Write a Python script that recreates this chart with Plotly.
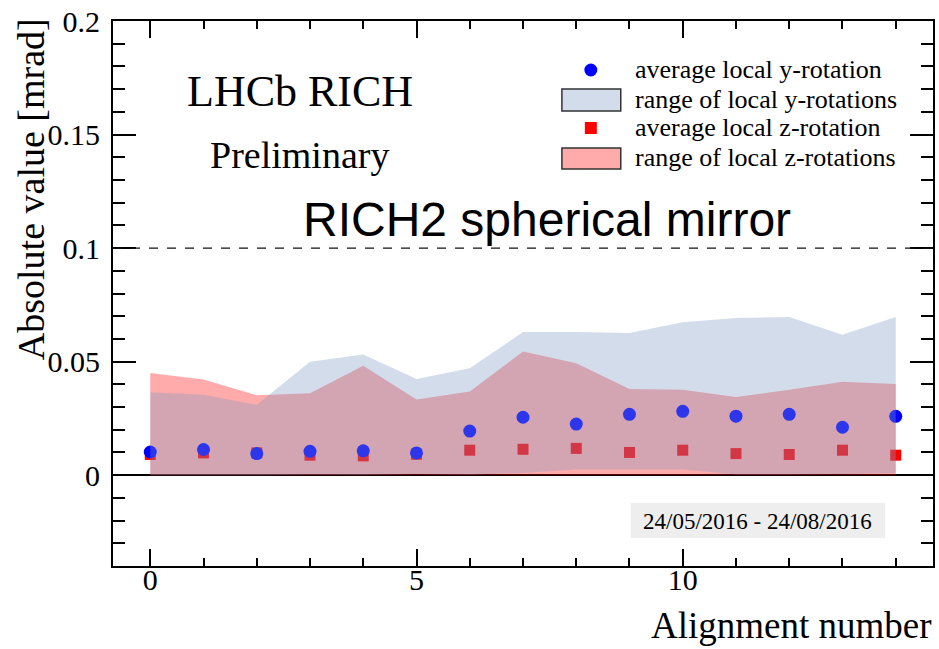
import plotly.graph_objects as go

# Alignment runs and local rotation summaries [mrad]
alignment = list(range(15))
y_rot_avg = [0.0102, 0.0113, 0.0095, 0.0105, 0.0107, 0.0098, 0.0194, 0.0255,
             0.0225, 0.0268, 0.0281, 0.0260, 0.0268, 0.0211, 0.0259]
y_rot_max = [0.0365, 0.0354, 0.0310, 0.0500, 0.0531, 0.0424, 0.0471, 0.0630,
             0.0630, 0.0626, 0.0673, 0.0692, 0.0697, 0.0618, 0.0697]
y_rot_min = [0.0000, 0.0000, 0.0000, 0.0002, 0.0001, 0.0005, 0.0002, 0.0010,
             0.0025, 0.0025, 0.0025, 0.0003, 0.0003, 0.0005, 0.0010]
z_rot_avg = [0.0091, 0.0098, 0.0098, 0.0088, 0.0085, 0.0092, 0.0110, 0.0114,
             0.0118, 0.0100, 0.0110, 0.0095, 0.0091, 0.0110, 0.0088]
z_rot_max = [0.0450, 0.0421, 0.0352, 0.0361, 0.0482, 0.0333, 0.0368, 0.0545,
             0.0493, 0.0379, 0.0376, 0.0344, 0.0376, 0.0411, 0.0402]
z_rot_min = [0.0] * 15

y_ticks = [0, 0.05, 0.1, 0.15, 0.2]
y_tick_text = ["0", "0.05", "0.1", "0.15", "0.2"]
x_ticks = [0, 5, 10]
threshold = 0.1

SERIF = "Liberation Serif, Times New Roman, serif"
SANS = "Liberation Sans, Arial, sans-serif"

BLUE_BAND = "rgba(129,155,195,0.35)"
RED_BAND = "rgba(255,0,0,0.33)"

W, H = 939, 649
ML, MR, MT, MB = 113, 4, 21, 83
PW, PH = W - ML - MR, H - MT - MB


def px(x):
    return (x - ML) / PW


def py(y):
    return (H - MB - y) / PH


def band(lo, hi, color):
    return go.Scatter(
        x=alignment + alignment[::-1],
        y=hi + lo[::-1],
        fill="toself", fillcolor=color, mode="none",
        hoverinfo="skip", showlegend=False,
    )


fig = go.Figure()
fig.add_trace(band(z_rot_min, z_rot_max, RED_BAND))
fig.add_trace(go.Scatter(x=alignment, y=z_rot_avg, mode="markers",
                         marker=dict(symbol="square", size=11, color="#ff0000"),
                         showlegend=False))
fig.add_trace(go.Scatter(x=alignment, y=y_rot_avg, mode="markers",
                         marker=dict(symbol="circle", size=13, color="#0000ff"),
                         showlegend=False))
fig.add_trace(band(y_rot_min, y_rot_max, BLUE_BAND))

shapes = [
    dict(type="line", xref="paper", yref="y", x0=0, x1=1, y0=threshold, y1=threshold,
         line=dict(color="#111", width=1.2, dash="9px,9px")),
    # legend symbols
    dict(type="circle", xref="paper", yref="paper",
         x0=px(585.5), x1=px(598.5), y0=py(76.5), y1=py(63.5),
         fillcolor="#0000ff", line=dict(width=0)),
    dict(type="rect", xref="paper", yref="paper",
         x0=px(563), x1=px(622), y0=py(111), y1=py(89),
         fillcolor=BLUE_BAND, line=dict(color="#333", width=1.5)),
    dict(type="rect", xref="paper", yref="paper",
         x0=px(586), x1=px(598), y0=py(134), y1=py(122),
         fillcolor="#ff0000", line=dict(width=0)),
    dict(type="rect", xref="paper", yref="paper",
         x0=px(563), x1=px(622), y0=py(169), y1=py(148),
         fillcolor=RED_BAND, line=dict(color="#333", width=1.5)),
    # date box
    dict(type="rect", xref="paper", yref="paper",
         x0=px(632), x1=px(887), y0=py(538), y1=py(503),
         fillcolor="#eeeeee", line=dict(width=0), layer="below"),
]

legend_labels = ["average local y-rotation", "range of local y-rotations",
                 "average local z-rotation", "range of local z-rotations"]
legend_rows = [70, 99, 128, 157]

annotations = []
for label, row in zip(legend_labels, legend_rows):
    annotations.append(dict(text=label, xref="paper", yref="paper",
                            x=px(634), y=py(row), xanchor="left", yanchor="middle",
                            showarrow=False, font=dict(family=SERIF, size=26, color="black")))

annotations += [
    dict(text="LHCb RICH", xref="paper", yref="paper", x=px(300), y=py(91),
         xanchor="center", yanchor="middle", showarrow=False,
         font=dict(family=SERIF, size=44, color="black")),
    dict(text="Preliminary", xref="paper", yref="paper", x=px(300), y=py(155),
         xanchor="center", yanchor="middle", showarrow=False,
         font=dict(family=SERIF, size=38, color="black")),
    dict(text="RICH2 spherical mirror", xref="paper", yref="paper", x=px(548), y=py(220),
         xanchor="center", yanchor="middle", showarrow=False,
         font=dict(family=SANS, size=48, color="black")),
    dict(text="24/05/2016 - 24/08/2016", xref="paper", yref="paper", x=px(759), y=py(521),
         xanchor="center", yanchor="middle", showarrow=False,
         font=dict(family=SERIF, size=23, color="black")),
    dict(text="Absolute value [mrad]", xref="paper", yref="paper", x=px(31), y=py(16),
         xanchor="center", yanchor="top", textangle=-90, showarrow=False,
         font=dict(family=SERIF, size=38, color="black")),
    dict(text="Alignment number", xref="paper", yref="paper", x=px(936), y=py(625),
         xanchor="right", yanchor="middle", showarrow=False,
         font=dict(family=SERIF, size=37, color="black")),
]

fig.update_layout(
    width=W, height=H,
    margin=dict(l=ML, r=MR, t=MT, b=MB),
    paper_bgcolor="white", plot_bgcolor="white",
    shapes=shapes, annotations=annotations,
    showlegend=False,
)
fig.update_xaxes(
    range=[-0.7, 14.7], tickvals=x_ticks, ticks="inside", ticklen=17, tickwidth=1.5,
    tickcolor="black", minor=dict(dtick=1, tick0=0, ticks="inside", ticklen=8,
                                  tickwidth=1.5, tickcolor="black"),
    showline=True, linecolor="black", linewidth=2, mirror="allticks",
    showgrid=False, zeroline=False, ticklabelstandoff=-14,
    tickfont=dict(family=SERIF, size=30, color="black"),
)
fig.update_yaxes(
    range=[-0.04, 0.2], tickvals=y_ticks, ticktext=y_tick_text, ticks="inside",
    ticklen=23, tickwidth=1.5, tickcolor="black",
    minor=dict(dtick=0.01, tick0=0, ticks="inside", ticklen=12, tickwidth=1.5,
               tickcolor="black"),
    showline=True, linecolor="black", linewidth=2, mirror="allticks",
    showgrid=False, zeroline=True, zerolinecolor="black", zerolinewidth=1.5,
    ticklabelstandoff=5,
    tickfont=dict(family=SERIF, size=30, color="black"),
)

fig.write_html("out.html")
